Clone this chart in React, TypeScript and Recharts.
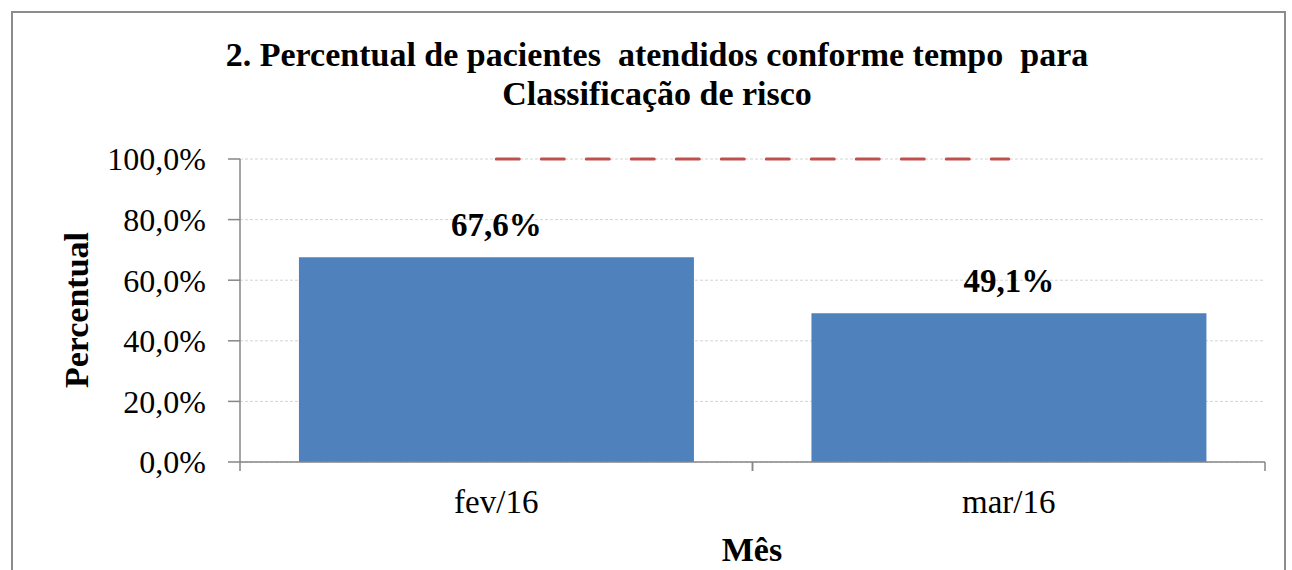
import React from "react";
import { ComposedChart, Bar, Line, XAxis, YAxis, CartesianGrid, LabelList } from "recharts";

const months = ["fev/16", "mar/16"];
const percentValues = [67.6, 49.1];
const goalValues = [100, 100];
const yTicks = [0, 20, 40, 60, 80, 100];

const data = months.map((m, i) => ({ mes: m, valor: percentValues[i], meta: goalValues[i] }));

const FONT = "'Liberation Serif', 'Times New Roman', serif";
const AXIS = "#868686";
const PLOT_W = 1025;

const fmt = (v: number) => v.toFixed(1).replace(".", ",") + "%";

const MonthTick = (props: any) => {
  const { x, y, payload } = props;
  const half = PLOT_W / 4;
  return (
    <g>
      <line x1={x - half} y1={y} x2={x - half} y2={y + 9} stroke={AXIS} strokeWidth={1.5} />
      <line x1={x + half} y1={y} x2={x + half} y2={y + 9} stroke={AXIS} strokeWidth={1.5} />
      <text x={x} y={513} textAnchor="middle" fontFamily={FONT} fontSize={33} fill="#000">
        {payload.value}
      </text>
    </g>
  );
};

const App = () => {
  return (
    <div style={{ position: "absolute", left: 0, top: 0, width: 1292, height: 570, overflow: "hidden", background: "#fff" }}>
      <div
        style={{
          position: "absolute",
          left: 11,
          top: 11,
          width: 1275,
          height: 620,
          border: "2px solid #8c8c8c",
          boxSizing: "border-box",
        }}
      />
      <div
        style={{
          position: "absolute",
          left: 0,
          top: 35,
          width: 1314,
          textAlign: "center",
          fontFamily: FONT,
          fontWeight: "bold",
          fontSize: 34,
          lineHeight: "39px",
          whiteSpace: "pre",
        }}
      >
        {"2. Percentual de pacientes  atendidos conforme tempo  para\nClassificação de risco"}
      </div>
      <div
        style={{
          position: "absolute",
          left: 75.5,
          top: 310,
          transform: "translate(-50%, -50%) rotate(-90deg)",
          fontFamily: FONT,
          fontWeight: "bold",
          fontSize: 34,
          lineHeight: "39px",
          whiteSpace: "nowrap",
        }}
      >
        Percentual
      </div>
      <div
        style={{
          position: "absolute",
          left: 552,
          top: 530,
          width: 400,
          textAlign: "center",
          fontFamily: FONT,
          fontWeight: "bold",
          fontSize: 34,
          lineHeight: "39px",
        }}
      >
        Mês
      </div>
      <div style={{ position: "absolute", left: 0, top: 0 }}>
        <ComposedChart
          width={1292}
          height={570}
          data={data}
          barCategoryGap="11.5%"
          margin={{ top: 159, right: 27, left: 100, bottom: 0 }}
        >
          <CartesianGrid vertical={false} stroke="#d4d4d4" strokeDasharray="3 2" />
          <XAxis
            dataKey="mes"
            height={108}
            axisLine={{ stroke: AXIS, strokeWidth: 1.5 }}
            tickLine={false}
            tickSize={0}
            tickMargin={0}
            tick={<MonthTick />}
          />
          <YAxis
            width={140}
            domain={[0, 100]}
            ticks={yTicks}
            tickFormatter={fmt}
            axisLine={{ stroke: AXIS, strokeWidth: 1.5 }}
            tickLine={{ stroke: AXIS, strokeWidth: 1.5 }}
            tickSize={12}
            tickMargin={22}
            tick={{ fontFamily: FONT, fontSize: 32, fill: "#000" }}
          />
          <Bar dataKey="valor" fill="#4F81BD" isAnimationActive={false}>
            <LabelList
              dataKey="valor"
              position="top"
              offset={21}
              formatter={(v: any) => fmt(Number(v))}
              style={{ fontFamily: FONT, fontWeight: "bold", fontSize: 33, fill: "#000" }}
            />
          </Bar>
          <Line
            dataKey="meta"
            stroke="#C0504D"
            strokeWidth={3}
            strokeDasharray="23 22"
            strokeLinecap="round"
            dot={false}
            activeDot={false}
            isAnimationActive={false}
          />
        </ComposedChart>
      </div>
    </div>
  );
};

export default App;
